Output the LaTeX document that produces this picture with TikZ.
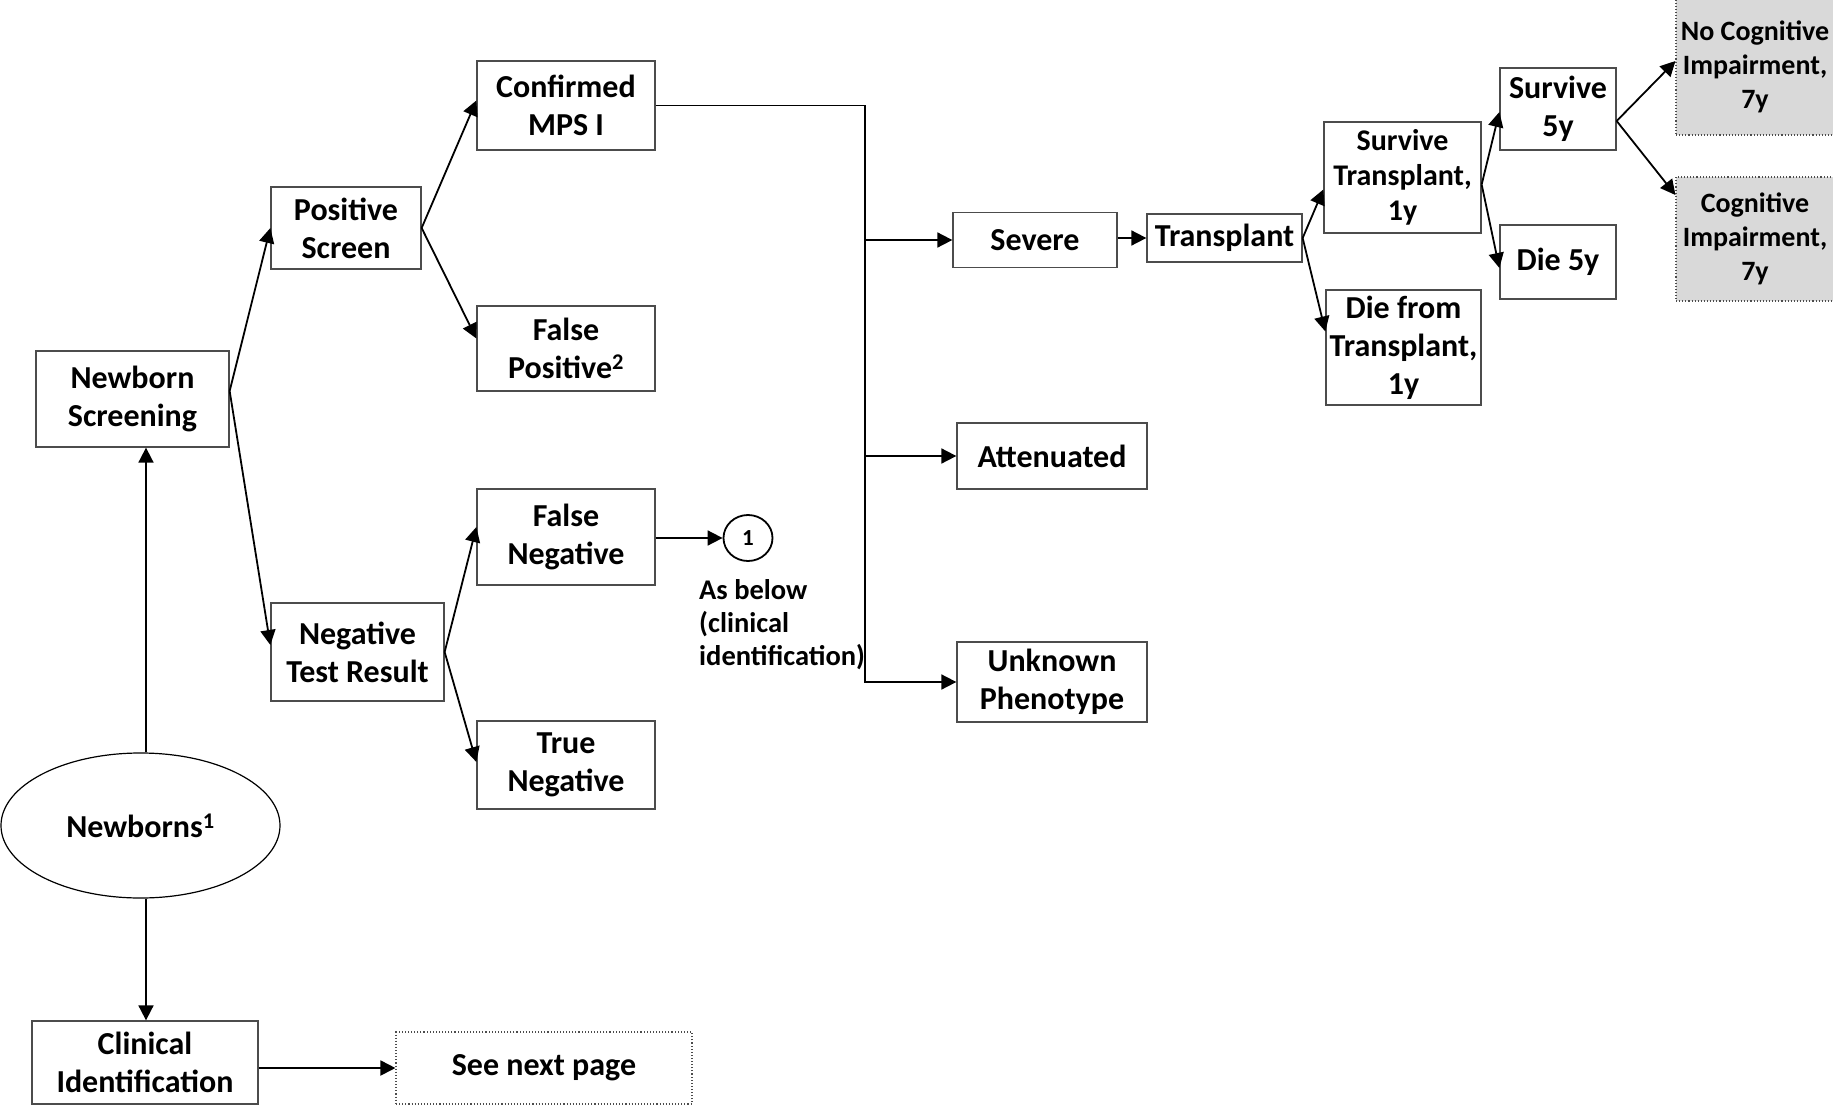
\documentclass[tikz,border=0pt]{standalone}
\usepackage{fontspec}
\setmainfont{Carlito}
\usetikzlibrary{arrows.meta,shapes.geometric,calc}
\begin{document}
\begin{tikzpicture}[x=1pt,y=-1pt,
  font=\fontsize{32}{38}\selectfont\bfseries,
  box/.style 2 args={draw=black!70, line width=1.3pt, align=center, inner sep=0pt,
    minimum width=#1pt, minimum height=#2pt},
  dbox/.style 2 args={draw=black!70, dotted, line width=1.1pt, align=center, inner sep=0pt,
    minimum width=#1pt, minimum height=#2pt},
  gbox/.style 2 args={dbox={#1}{#2}, fill=black!15},
  arr/.style={line width=1.8pt, -{Triangle[length=15pt,width=15pt]}},
  smallfont/.style={font=\fontsize{30}{35}\selectfont\bfseries}
]
\useasboundingbox (0,0) rectangle (1833,1105);

% left column
\node[box={193}{96}] (ns) at (132.5,399) {Newborn\\Screening};
\node[draw=black, line width=1.2pt, ellipse, minimum width=279pt, minimum height=145pt, inner sep=0pt] (nb) at (140.5,825.5) {Newborns\textsuperscript{1}};
\node[box={226}{83}] (ci) at (145,1062.5) {Clinical\\Identification};
\node[dbox={296}{72}] (snp) at (544,1068) {See next page};
\coordinate (vx) at (146,0);

% screening results
\node[box={150}{82}] (ps) at (346,228) {Positive\\Screen};
\node[box={173}{98}] (neg) at (357.5,652) {Negative\\Test Result};
\node[box={178}{89}] (cm) at (566,105.5) {Confirmed\\MPS I};
\node[box={178}{85}] (fp) at (566,348.5) {False\\Positive\textsuperscript{2}};
\node[box={178}{96}] (fn) at (566,537) {False\\Negative};
\node[box={178}{88}] (tn) at (566,765) {True\\Negative};
\node[draw=black, line width=1.8pt, ellipse, minimum width=49pt, minimum height=46pt, inner sep=0pt, font=\fontsize{23}{26}\selectfont\bfseries] (c1) at (748,538) {1};
\node[anchor=north west, align=left, inner sep=0pt, font=\fontsize{28.5}{33}\selectfont\bfseries] (asb) at (699,579) {As below\\(clinical\\identification)};

% phenotypes
\coordinate (vl) at (865,0);
\node[box={164}{55}] (sev) at (1035,240) {Severe};
\node[box={155}{48}] (tr) at (1224.5,238) {Transplant};
\node[box={190}{66}] (att) at (1052,456) {Attenuated};
\node[box={190}{80}] (unk) at (1052,682) {Unknown\\Phenotype};

% outcomes
\node[box={157}{111}, smallfont] (st) at (1402.5,177.5) {Survive\\Transplant,\\1y};
\node[box={155}{115}] (dt) at (1403.5,347.5) {Die from\\Transplant,\\1y};
\node[box={116}{82}] (s5) at (1558,109) {Survive\\5y};
\node[box={116}{74}] (d5) at (1558,262) {Die 5y};
\node[gbox={158}{136}, font=\fontsize{28}{34}\selectfont\bfseries] (nc) at (1755,67) {No Cognitive\\Impairment,\\7y};
\node[gbox={158}{124}, font=\fontsize{28}{34}\selectfont\bfseries] (cg) at (1755,239) {Cognitive\\Impairment,\\7y};

% connectors
\draw[arr] (nb.north -| vx) -- (ns.south -| vx);
\draw[arr] (nb.south -| vx) -- (ci.north -| vx);
\draw[arr] (ci.east |- snp.west) -- (snp.west);

\draw[arr] ([yshift=8pt]ns.east) -- (ps.west);
\draw[arr] ([yshift=8pt]ns.east) -- ([yshift=7pt]neg.west);
\draw[arr] (ps.east) -- ([yshift=5pt]cm.west);
\draw[arr] (ps.east) -- ([yshift=10pt]fp.west);
\draw[arr] (neg.east) -- ([yshift=10pt]fn.west);
\draw[arr] (neg.east) -- ([yshift=3pt]tn.west);
\draw[arr] (fn.east |- c1.west) -- (c1.west);

\draw[arr] (cm.east) -- (cm.east -| vl) |- (unk.west);
\draw[arr] (sev.west -| vl) -- (sev.west);
\draw[arr] (att.west -| vl) -- (att.west);
\draw[arr] (sev.east |- tr.west) -- (tr.west);

\draw[arr] (tr.east) -- ([yshift=-12pt]st.west);
\draw[arr] (tr.east) -- ([yshift=16pt]dt.west);
\draw[arr] ([yshift=-7pt]st.east) -- ([yshift=-3pt]s5.west);
\draw[arr] ([yshift=-7pt]st.east) -- ([yshift=-6pt]d5.west);
\draw[arr] ([yshift=-12pt]s5.east) -- ([yshift=6pt]nc.west);
\draw[arr] ([yshift=-12pt]s5.east) -- ([yshift=44pt]cg.west);
\end{tikzpicture}
\end{document}
